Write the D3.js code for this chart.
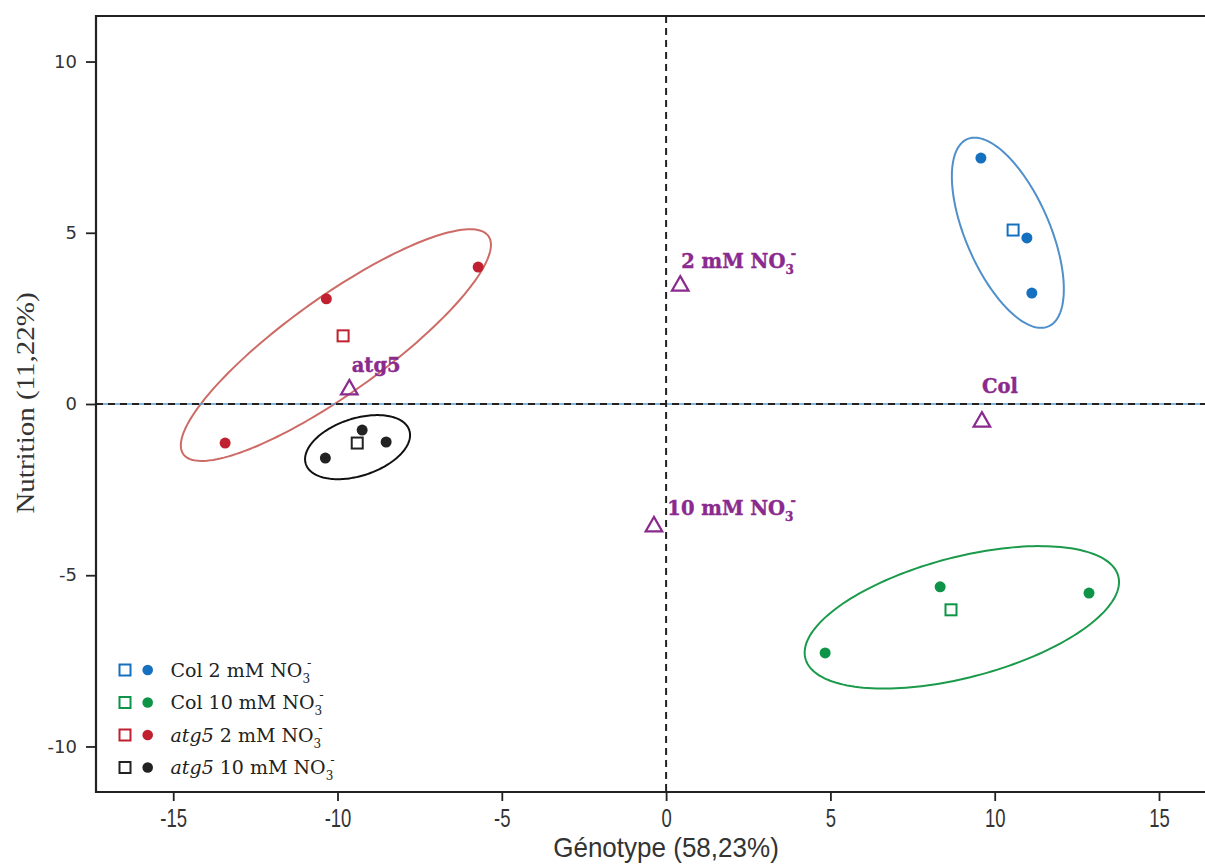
<!DOCTYPE html>
<html><head><meta charset="utf-8">
<script src="https://cdn.jsdelivr.net/npm/d3@7"></script>
<style>body{margin:0;background:#fff}svg{display:block}</style>
</head><body><svg id="c" width="1205" height="866"></svg>
<script>
// ---------- data ----------
const groupGenotype = ["Col", "Col", "atg5", "atg5"];
const groupConc = ["2", "10", "2", "10"];
const groupPointColor = ["#1670c0", "#0d9447", "#c0202f", "#222222"];
const groupEllipseColor = ["#4f8fca", "#1a9a4a", "#cd6b66", "#111111"];

const indX = [9.58, 10.98, 11.13, 4.84, 8.34, 12.87, -13.42, -10.34, -5.72, -10.37, -9.25, -8.52];
const indY = [7.18, 4.85, 3.24, -7.27, -5.34, -5.52, -1.14, 3.07, 4.00, -1.58, -0.76, -1.11];
const indGroup = [0, 0, 0, 1, 1, 1, 2, 2, 2, 3, 3, 3];

const centroidX = [10.56, 8.67, -9.83, -9.40];
const centroidY = [5.08, -6.01, 1.99, -1.14];

const ellipseCX = [10.40, 9.00, -10.05, -9.39];
const ellipseCY = [5.00, -6.23, 1.72, -1.26];
const ellipseA = [3.00, 4.91, 5.63, 1.65];
const ellipseB = [1.27, 1.76, 1.42, 0.84];
const ellipseAngle = [-65.3, 14.0, 34.3, 16.9];

const suppText = ["2 mM NO", "10 mM NO", "atg5", "Col"];
const suppIon = [true, true, false, false];
const suppX = [0.43, -0.37, -9.64, 9.61];
const suppY = [3.50, -3.53, 0.47, -0.47];

const xTicks = [-15, -10, -5, 0, 5, 10, 15];
const yTicks = [-10, -5, 0, 5, 10];
const xTitle = "Génotype (58,23%)";
const yTitle = "Nutrition (11,22%)";

// ---------- layout ----------
const L = 96, R = 1205, T = 16, B = 792;
const purple = "#8b2a8e";
const labelOffset = [[1, -16.6], [13.4, -10], [2.4, -16], [0, -26.7]];

const svg = d3.select("#c");
const x = d3.scaleLinear().domain([-17.35, 16.4]).range([L, R]);
const y = d3.scaleLinear().domain([-11.33, 11.33]).range([B, T]);
const fmt = d => String(d);

// ellipses
const line = d3.line().curve(d3.curveLinearClosed);
for (let g = 0; g < 4; g++) {
  const th = ellipseAngle[g] * Math.PI / 180;
  const pts = d3.range(0, 2 * Math.PI, Math.PI / 90).map(t => {
    const dx = ellipseA[g] * Math.cos(t), dy = ellipseB[g] * Math.sin(t);
    return [x(ellipseCX[g] + dx * Math.cos(th) - dy * Math.sin(th)),
            y(ellipseCY[g] + dx * Math.sin(th) + dy * Math.cos(th))];
  });
  svg.append("path").attr("d", line(pts)).attr("fill", "none")
    .attr("stroke", groupEllipseColor[g]).attr("stroke-width", 2);
}

// reference lines
svg.append("line").attr("x1", L).attr("x2", R).attr("y1", y(0)).attr("y2", y(0))
  .attr("stroke", "#5b9bd5").attr("stroke-width", 1.6);
svg.append("line").attr("x1", L).attr("x2", R).attr("y1", y(0)).attr("y2", y(0))
  .attr("stroke", "#222").attr("stroke-width", 2).attr("stroke-dasharray", "7,5");
svg.append("line").attr("x1", x(0)).attr("x2", x(0)).attr("y1", T).attr("y2", B)
  .attr("stroke", "#222").attr("stroke-width", 2).attr("stroke-dasharray", "7,5");

// frame
svg.append("path").attr("d", `M${R},${T}H${L}V${B}H${R}`).attr("fill", "none")
  .attr("stroke", "#222").attr("stroke-width", 2.2);

// axes
const ya = svg.append("g").attr("transform", `translate(${L},0)`)
  .call(d3.axisLeft(y).tickValues(yTicks).tickSize(10).tickPadding(9).tickFormat(fmt));
ya.select(".domain").remove();
ya.selectAll("line").attr("stroke", "#222").attr("stroke-width", 1.8);
ya.selectAll("text").attr("font-family", "DejaVu Sans, sans-serif").attr("font-size", 18).attr("fill", "#333");

const xa = svg.append("g").attr("transform", `translate(0,${B})`)
  .call(d3.axisBottom(x).tickValues(xTicks).tickSize(9).tickPadding(8).tickFormat(fmt));
xa.select(".domain").remove();
xa.selectAll("line").attr("stroke", "#222").attr("stroke-width", 1.8);
xa.selectAll("text").attr("font-family", "Liberation Sans, sans-serif").attr("font-size", 25)
  .attr("fill", "#333").attr("transform", "scale(0.74,1)");

// titles
svg.append("text").attr("transform", `translate(666,857) scale(0.93,1)`).attr("text-anchor", "middle")
  .attr("font-family", "Liberation Sans, sans-serif").attr("font-size", 28).attr("fill", "#333").text(xTitle);
svg.append("text").attr("transform", `translate(34,403) rotate(-90) scale(1,0.9)`).attr("text-anchor", "middle")
  .attr("font-family", "Liberation Serif, serif").attr("font-size", 29).attr("fill", "#333").text(yTitle);

// individuals
svg.append("g").selectAll("circle").data(indX).join("circle")
  .attr("cx", (d) => x(d)).attr("cy", (d, i) => y(indY[i])).attr("r", 5.5)
  .attr("fill", (d, i) => groupPointColor[indGroup[i]]);

// centroids
svg.append("g").selectAll("rect").data(centroidX).join("rect")
  .attr("x", d => x(d) - 5.5).attr("y", (d, i) => y(centroidY[i]) - 5.5)
  .attr("width", 11).attr("height", 11).attr("fill", "#fff")
  .attr("stroke", (d, i) => groupPointColor[i]).attr("stroke-width", 2);

// supplementary
const tri = "M0,-8L8.3,6.5L-8.3,6.5Z";
svg.append("g").selectAll("path").data(suppX).join("path")
  .attr("d", tri).attr("transform", (d, i) => `translate(${x(d)},${y(suppY[i])})`)
  .attr("fill", "none").attr("stroke", purple).attr("stroke-width", 2.2);
suppX.forEach((d, i) => {
  const t = svg.append("text").attr("x", x(d) + labelOffset[i][0]).attr("y", y(suppY[i]) + labelOffset[i][1])
    .attr("font-family", "DejaVu Serif, serif").attr("font-weight", "bold").attr("font-size", 19.5)
    .attr("fill", purple).attr("stroke", purple).attr("stroke-width", 0.4);
  t.append("tspan").text(suppText[i]);
  if (suppIon[i]) {
    t.append("tspan").attr("font-size", 12).attr("dy", 6).text("3");
    t.append("tspan").attr("font-size", 13).attr("dx", -3).attr("dy", -16).text("-");
  }
});

// legend
const legY0 = 670, legDY = 32.5;
groupGenotype.forEach((gname, g) => {
  const cy = legY0 + g * legDY;
  svg.append("rect").attr("x", 119.5).attr("y", cy - 5.5).attr("width", 11).attr("height", 11)
    .attr("fill", "#fff").attr("stroke", groupPointColor[g]).attr("stroke-width", 2);
  svg.append("circle").attr("cx", 147.7).attr("cy", cy).attr("r", 5.3).attr("fill", groupPointColor[g]);
  const t = svg.append("text").attr("x", 170.5).attr("y", cy + 6.8)
    .attr("font-family", "DejaVu Serif, serif").attr("font-size", 19).attr("fill", "#222");
  t.append("tspan").attr("font-style", gname === "atg5" ? "italic" : "normal").text(gname);
  t.append("tspan").text(` ${groupConc[g]} mM NO`);
  t.append("tspan").attr("font-size", 12).attr("dy", 6).text("3");
  t.append("tspan").attr("font-size", 13).attr("dx", -3).attr("dy", -16).text("-");
});
</script></body></html>
